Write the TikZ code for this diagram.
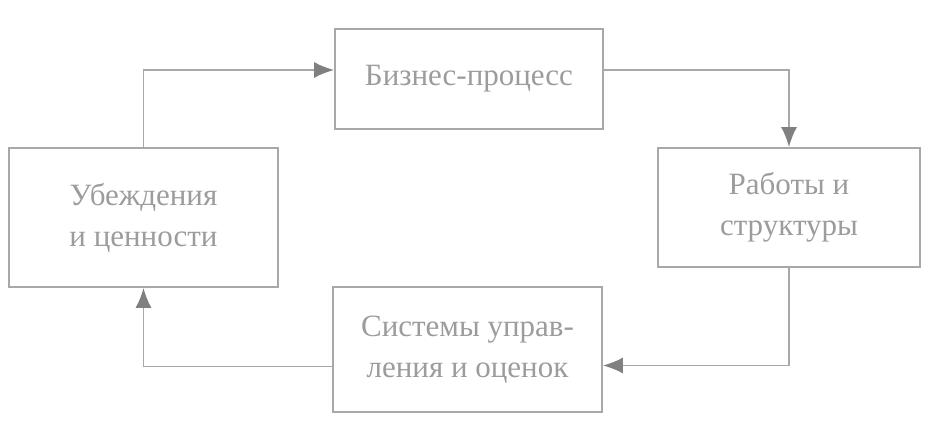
\documentclass[tikz,border=0pt]{standalone}
\usepackage{fontspec}
\setmainfont{Liberation Serif}
\usetikzlibrary{arrows.meta}
\definecolor{boxgray}{HTML}{A8A8A8}
\definecolor{txtgray}{HTML}{9C9C9C}
\definecolor{tipgray}{HTML}{808080}
\begin{document}
\begin{tikzpicture}[x=1pt,y=-1pt]
\tikzstyle{arrow}=[draw=boxgray, line width=1.8pt, -{Latex[length=20pt,width=16pt,color=tipgray]}]
\tikzstyle{blk}=[draw=boxgray, line width=1.8pt, text=txtgray, align=center,
  font=\fontsize{31}{41}\selectfont, inner sep=0pt]
\useasboundingbox (0,0) rectangle (930,430);
\draw node[blk, minimum width=268pt, minimum height=100pt] (bp)  at (469,79)    {Бизнес-процесс};
\draw node[blk, minimum width=269pt, minimum height=139pt] (ub)  at (143.5,217.5) {Убеждения\\и ценности};
\draw node[blk, minimum width=262pt, minimum height=119pt] (ws)  at (789,207.5) {Работы и\\структуры};
\draw node[blk, minimum width=269pt, minimum height=125pt] (sys) at (467.5,349.5) {Системы управ-\\ления и оценок};
\draw[arrow] (ub.north) |- ([yshift=9pt]bp.west);
\draw[arrow] ([yshift=9pt]bp.east) -| (ws.north);
\draw[arrow] (ws.south) |- ([yshift=-16pt]sys.east);
\draw[arrow] ([yshift=-17pt]sys.west) -| (ub.south);
\end{tikzpicture}
\end{document}
